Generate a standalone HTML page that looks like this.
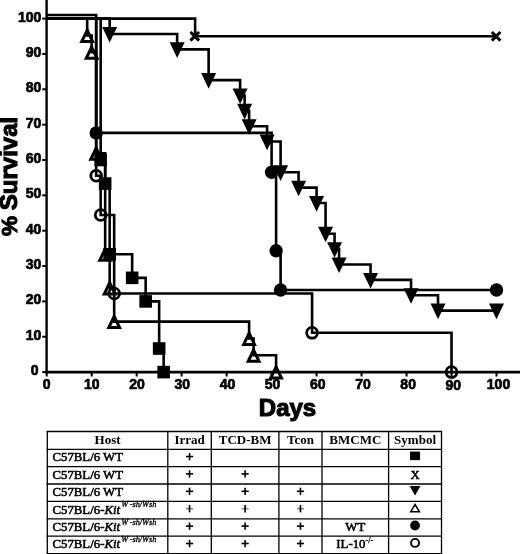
<!DOCTYPE html>
<html><head><meta charset="utf-8"><style>
html,body{margin:0;padding:0;background:#fff;width:520px;height:554px;overflow:hidden}
svg{display:block;will-change:transform}
.tl{font-family:"Liberation Sans",sans-serif;font-weight:bold;font-size:14px;fill:#000;stroke:#000;stroke-width:0.7px}
.ax{font-family:"Liberation Sans",sans-serif;font-weight:bold;font-size:24px;fill:#000;stroke:#000;stroke-width:1.1px}
.th{font-family:"Liberation Serif",serif;font-weight:bold;font-size:13px;fill:#000}
.td{font-family:"Liberation Serif",serif;font-size:12.8px;fill:#000;stroke:#000;stroke-width:0.55px}
.sup{font-size:8.3px;stroke-width:0.3px}
</style></head><body>
<svg width="520" height="554" viewBox="0 0 520 554">
<path d="M46.6,0 V373.4" stroke="#000" stroke-width="2.4" fill="none"/>
<path d="M45.4,372.1 H520" stroke="#000" stroke-width="2.6" fill="none"/>
<path d="M42.2,372.10 H46" stroke="#000" stroke-width="2" fill="none"/>
<text x="38.5" y="375.00" class="tl" text-anchor="end">0</text>
<path d="M42.2,336.75 H46" stroke="#000" stroke-width="2" fill="none"/>
<text x="41.3" y="339.65" class="tl" text-anchor="end">10</text>
<path d="M42.2,301.40 H46" stroke="#000" stroke-width="2" fill="none"/>
<text x="41.3" y="304.30" class="tl" text-anchor="end">20</text>
<path d="M42.2,266.05 H46" stroke="#000" stroke-width="2" fill="none"/>
<text x="41.3" y="268.95" class="tl" text-anchor="end">30</text>
<path d="M42.2,230.70 H46" stroke="#000" stroke-width="2" fill="none"/>
<text x="41.3" y="233.60" class="tl" text-anchor="end">40</text>
<path d="M42.2,195.35 H46" stroke="#000" stroke-width="2" fill="none"/>
<text x="41.3" y="198.25" class="tl" text-anchor="end">50</text>
<path d="M42.2,160.00 H46" stroke="#000" stroke-width="2" fill="none"/>
<text x="41.3" y="162.90" class="tl" text-anchor="end">60</text>
<path d="M42.2,124.65 H46" stroke="#000" stroke-width="2" fill="none"/>
<text x="41.3" y="127.55" class="tl" text-anchor="end">70</text>
<path d="M42.2,89.30 H46" stroke="#000" stroke-width="2" fill="none"/>
<text x="41.3" y="92.20" class="tl" text-anchor="end">80</text>
<path d="M42.2,53.95 H46" stroke="#000" stroke-width="2" fill="none"/>
<text x="41.3" y="56.85" class="tl" text-anchor="end">90</text>
<path d="M42.2,18.60 H46" stroke="#000" stroke-width="2" fill="none"/>
<text x="41.3" y="21.50" class="tl" text-anchor="end">100</text>
<path d="M46.70,373 V376.5" stroke="#000" stroke-width="2" fill="none"/>
<text x="46.70" y="388.8" class="tl" text-anchor="middle">0</text>
<path d="M91.68,373 V376.5" stroke="#000" stroke-width="2" fill="none"/>
<text x="91.88" y="388.8" class="tl" text-anchor="middle">10</text>
<path d="M136.66,373 V376.5" stroke="#000" stroke-width="2" fill="none"/>
<text x="137.06" y="388.8" class="tl" text-anchor="middle">20</text>
<path d="M181.64,373 V376.5" stroke="#000" stroke-width="2" fill="none"/>
<text x="182.24" y="388.8" class="tl" text-anchor="middle">30</text>
<path d="M226.62,373 V376.5" stroke="#000" stroke-width="2" fill="none"/>
<text x="227.42" y="388.8" class="tl" text-anchor="middle">40</text>
<path d="M271.60,373 V376.5" stroke="#000" stroke-width="2" fill="none"/>
<text x="272.60" y="388.8" class="tl" text-anchor="middle">50</text>
<path d="M316.58,373 V376.5" stroke="#000" stroke-width="2" fill="none"/>
<text x="317.78" y="388.8" class="tl" text-anchor="middle">60</text>
<path d="M361.56,373 V376.5" stroke="#000" stroke-width="2" fill="none"/>
<text x="362.96" y="388.8" class="tl" text-anchor="middle">70</text>
<path d="M406.54,373 V376.5" stroke="#000" stroke-width="2" fill="none"/>
<text x="408.14" y="388.8" class="tl" text-anchor="middle">80</text>
<path d="M451.52,373 V376.5" stroke="#000" stroke-width="2" fill="none"/>
<text x="453.32" y="390.0" class="tl" text-anchor="middle">90</text>
<path d="M496.50,373 V376.5" stroke="#000" stroke-width="2" fill="none"/>
<text x="498.50" y="388.8" class="tl" text-anchor="middle">100</text>
<text x="287.5" y="415.5" class="ax" text-anchor="middle">Days</text>
<text transform="translate(17.1,163.5) rotate(-90)" class="ax" style="font-size:24px" text-anchor="middle">Survival</text>
<text transform="translate(17.1,226) rotate(-90)" class="ax" style="font-size:22.5px" text-anchor="middle">%</text>
<path d="M46.70,18.60 H100.68 V160.00 H105.17 V183.57 H109.67 V254.27 H132.16 V277.83 H145.66 V301.40 H159.15 V348.53 H163.65 V372.10" stroke="#000" stroke-width="2.6" fill="none" stroke-linejoin="miter" stroke-linecap="butt"/>
<path d="M46.70,18.60 H195.13 V36.28 H496.50" stroke="#000" stroke-width="2.6" fill="none" stroke-linejoin="miter" stroke-linecap="butt"/>
<path d="M46.70,18.60 H109.67 V33.97 H177.14 V49.34 H208.63 V80.08 H240.11 V95.45 H244.61 V110.82 H249.11 V126.19 H267.10 V141.56 H280.60 V172.30 H298.59 V187.67 H316.58 V203.03 H325.58 V233.77 H334.57 V249.14 H339.07 V264.51 H370.56 V279.88 H411.04 V295.25 H438.03 V310.62 H496.50" stroke="#000" stroke-width="2.6" fill="none" stroke-linejoin="miter" stroke-linecap="butt"/>
<path d="M46.70,18.60 H87.18 V35.43 H91.68 V52.27 H96.18 V153.27 H105.17 V254.27 H109.67 V287.93 H114.17 V321.60 H249.11 V338.43 H253.61 V355.27 H276.10 V372.10" stroke="#000" stroke-width="2.6" fill="none" stroke-linejoin="miter" stroke-linecap="butt"/>
<path d="M46.70,15.07 H96.18 V132.90 H271.60 V172.18 H276.10 V250.73 H280.60 V290.01 H496.50" stroke="#000" stroke-width="2.6" fill="none" stroke-linejoin="miter" stroke-linecap="butt"/>
<path d="M46.70,18.60 H96.18 V175.71 H100.68 V214.99 H114.17 V293.54 H312.08 V332.82 H451.52 V372.10" stroke="#000" stroke-width="2.6" fill="none" stroke-linejoin="miter" stroke-linecap="butt"/>
<rect x="94.38" y="153.70" width="12.6" height="12.6" fill="#000"/>
<rect x="98.87" y="177.27" width="12.6" height="12.6" fill="#000"/>
<rect x="103.37" y="247.97" width="12.6" height="12.6" fill="#000"/>
<rect x="125.86" y="271.53" width="12.6" height="12.6" fill="#000"/>
<rect x="139.36" y="295.10" width="12.6" height="12.6" fill="#000"/>
<rect x="152.85" y="342.23" width="12.6" height="12.6" fill="#000"/>
<rect x="157.35" y="365.80" width="12.6" height="12.6" fill="#000"/>
<path d="M190.43,31.98 L199.03,40.58 M199.03,31.98 L190.43,40.58" stroke="#000" stroke-width="3" fill="none"/>
<path d="M491.80,31.98 L500.40,40.58 M500.40,31.98 L491.80,40.58" stroke="#000" stroke-width="3" fill="none"/>
<polygon points="102.17,26.97 117.17,26.97 109.67,42.57" fill="#000"/>
<polygon points="169.64,42.34 184.64,42.34 177.14,57.94" fill="#000"/>
<polygon points="201.13,73.08 216.13,73.08 208.63,88.68" fill="#000"/>
<polygon points="232.61,88.45 247.61,88.45 240.11,104.05" fill="#000"/>
<polygon points="237.11,103.82 252.11,103.82 244.61,119.42" fill="#000"/>
<polygon points="241.61,119.19 256.61,119.19 249.11,134.79" fill="#000"/>
<polygon points="259.60,134.56 274.60,134.56 267.10,150.16" fill="#000"/>
<polygon points="273.10,165.30 288.10,165.30 280.60,180.90" fill="#000"/>
<polygon points="291.09,180.67 306.09,180.67 298.59,196.27" fill="#000"/>
<polygon points="309.08,196.03 324.08,196.03 316.58,211.63" fill="#000"/>
<polygon points="318.08,226.77 333.08,226.77 325.58,242.37" fill="#000"/>
<polygon points="327.07,242.14 342.07,242.14 334.57,257.74" fill="#000"/>
<polygon points="331.57,257.51 346.57,257.51 339.07,273.11" fill="#000"/>
<polygon points="363.06,272.88 378.06,272.88 370.56,288.48" fill="#000"/>
<polygon points="403.54,288.25 418.54,288.25 411.04,303.85" fill="#000"/>
<polygon points="430.53,303.62 445.53,303.62 438.03,319.22" fill="#000"/>
<polygon points="489.00,303.62 504.00,303.62 496.50,319.22" fill="#000"/>
<polygon points="87.18,30.23 92.58,41.43 81.78,41.43" fill="none" stroke="#000" stroke-width="3.0" stroke-linejoin="miter"/>
<polygon points="91.68,47.07 97.08,58.27 86.28,58.27" fill="none" stroke="#000" stroke-width="3.0" stroke-linejoin="miter"/>
<polygon points="96.18,148.07 101.58,159.27 90.78,159.27" fill="none" stroke="#000" stroke-width="3.0" stroke-linejoin="miter"/>
<polygon points="105.17,249.07 110.57,260.27 99.77,260.27" fill="none" stroke="#000" stroke-width="3.0" stroke-linejoin="miter"/>
<polygon points="109.67,282.73 115.07,293.93 104.27,293.93" fill="none" stroke="#000" stroke-width="3.0" stroke-linejoin="miter"/>
<polygon points="114.17,316.40 119.57,327.60 108.77,327.60" fill="none" stroke="#000" stroke-width="3.0" stroke-linejoin="miter"/>
<polygon points="249.11,333.23 254.51,344.43 243.71,344.43" fill="none" stroke="#000" stroke-width="3.0" stroke-linejoin="miter"/>
<polygon points="253.61,350.07 259.01,361.27 248.21,361.27" fill="none" stroke="#000" stroke-width="3.0" stroke-linejoin="miter"/>
<polygon points="276.10,366.90 281.50,378.10 270.70,378.10" fill="none" stroke="#000" stroke-width="3.0" stroke-linejoin="miter"/>
<circle cx="96.18" cy="132.90" r="6.7" fill="#000"/>
<circle cx="271.60" cy="172.18" r="6.7" fill="#000"/>
<circle cx="276.10" cy="250.73" r="6.7" fill="#000"/>
<circle cx="280.60" cy="290.01" r="6.7" fill="#000"/>
<circle cx="496.50" cy="290.01" r="6.7" fill="#000"/>
<circle cx="96.18" cy="175.71" r="5.4" fill="none" stroke="#000" stroke-width="2.8"/>
<circle cx="100.68" cy="214.99" r="5.4" fill="none" stroke="#000" stroke-width="2.8"/>
<circle cx="114.17" cy="293.54" r="5.4" fill="none" stroke="#000" stroke-width="2.8"/>
<circle cx="312.08" cy="332.82" r="5.4" fill="none" stroke="#000" stroke-width="2.8"/>
<circle cx="451.52" cy="372.10" r="5.4" fill="none" stroke="#000" stroke-width="2.8"/>
<path d="M47.3,431.0 V554.1" stroke="#000" stroke-width="1.3" fill="none"/>
<path d="M167.8,431.0 V554.1" stroke="#000" stroke-width="1.3" fill="none"/>
<path d="M211.3,431.0 V554.1" stroke="#000" stroke-width="1.3" fill="none"/>
<path d="M278.9,431.0 V554.1" stroke="#000" stroke-width="1.3" fill="none"/>
<path d="M322.0,431.0 V554.1" stroke="#000" stroke-width="1.3" fill="none"/>
<path d="M388.6,431.0 V554.1" stroke="#000" stroke-width="1.3" fill="none"/>
<path d="M441.5,431.0 V554.1" stroke="#000" stroke-width="1.3" fill="none"/>
<path d="M46.699999999999996,431.5 H442.1" stroke="#000" stroke-width="1.3" fill="none"/>
<path d="M46.699999999999996,449.3 H442.1" stroke="#000" stroke-width="1.3" fill="none"/>
<path d="M46.699999999999996,466.6 H442.1" stroke="#000" stroke-width="1.3" fill="none"/>
<path d="M46.699999999999996,484.0 H442.1" stroke="#000" stroke-width="1.3" fill="none"/>
<path d="M46.699999999999996,501.4 H442.1" stroke="#000" stroke-width="1.3" fill="none"/>
<path d="M46.699999999999996,518.8 H442.1" stroke="#000" stroke-width="1.3" fill="none"/>
<path d="M46.699999999999996,536.2 H442.1" stroke="#000" stroke-width="1.3" fill="none"/>
<path d="M46.699999999999996,553.6 H442.1" stroke="#000" stroke-width="1.3" fill="none"/>
<text x="107.55" y="443.6" class="th" text-anchor="middle">Host</text>
<text x="189.55" y="443.6" class="th" text-anchor="middle">Irrad</text>
<text x="245.10" y="443.6" class="th" text-anchor="middle">TCD-BM</text>
<text x="300.45" y="443.6" class="th" text-anchor="middle">Tcon</text>
<text x="355.30" y="443.6" class="th" text-anchor="middle">BMCMC</text>
<text x="415.05" y="443.6" class="th" text-anchor="middle">Symbol</text>
<text x="52.5" y="461.40" class="td">C57BL/6 WT</text>
<path d="M185.95,456.55 H193.15" stroke="#000" stroke-width="1.6" fill="none"/>
<path d="M189.55,452.95 V460.25" stroke="#000" stroke-width="1.6" fill="none"/>
<rect x="410.05" y="451.55" width="10" height="8.6" fill="#000"/>
<text x="52.5" y="478.80" class="td">C57BL/6 WT</text>
<path d="M185.95,473.90 H193.15" stroke="#000" stroke-width="1.6" fill="none"/>
<path d="M189.55,470.30 V477.60" stroke="#000" stroke-width="1.6" fill="none"/>
<path d="M241.50,473.90 H248.70" stroke="#000" stroke-width="1.6" fill="none"/>
<path d="M245.10,470.30 V477.60" stroke="#000" stroke-width="1.6" fill="none"/>
<text x="415.05" y="478.80" class="td" text-anchor="middle">X</text>
<text x="52.5" y="496.20" class="td">C57BL/6 WT</text>
<path d="M185.95,491.30 H193.15" stroke="#000" stroke-width="1.6" fill="none"/>
<path d="M189.55,487.70 V495.00" stroke="#000" stroke-width="1.6" fill="none"/>
<path d="M241.50,491.30 H248.70" stroke="#000" stroke-width="1.6" fill="none"/>
<path d="M245.10,487.70 V495.00" stroke="#000" stroke-width="1.6" fill="none"/>
<path d="M296.85,491.30 H304.05" stroke="#000" stroke-width="1.6" fill="none"/>
<path d="M300.45,487.70 V495.00" stroke="#000" stroke-width="1.6" fill="none"/>
<polygon points="409.65,486.00 420.45,486.00 415.05,495.50" fill="#000"/>
<text x="52.5" y="513.60" class="td">C57BL/6-<tspan font-style="italic">Kit</tspan><tspan class="sup" dx="1.2" dy="-6.2" font-style="italic">W</tspan><tspan class="sup" dx="1.8" font-style="italic">-sh/Wsh</tspan></text>
<path d="M185.95,508.70 H193.15" stroke="#8a8a8a" stroke-width="1.6" fill="none"/>
<path d="M189.55,505.10 V512.40" stroke="#000" stroke-width="1.6" fill="none"/>
<path d="M241.50,508.70 H248.70" stroke="#8a8a8a" stroke-width="1.6" fill="none"/>
<path d="M245.10,505.10 V512.40" stroke="#000" stroke-width="1.6" fill="none"/>
<path d="M296.85,508.70 H304.05" stroke="#8a8a8a" stroke-width="1.6" fill="none"/>
<path d="M300.45,505.10 V512.40" stroke="#000" stroke-width="1.6" fill="none"/>
<polygon points="415.05,504.50 419.35,511.70 410.75,511.70" fill="none" stroke="#000" stroke-width="1.5"/>
<text x="52.5" y="531.00" class="td">C57BL/6-<tspan font-style="italic">Kit</tspan><tspan class="sup" dx="1.2" dy="-6.2" font-style="italic">W</tspan><tspan class="sup" dx="1.8" font-style="italic">-sh/Wsh</tspan></text>
<path d="M185.95,526.10 H193.15" stroke="#000" stroke-width="1.6" fill="none"/>
<path d="M189.55,522.50 V529.80" stroke="#000" stroke-width="1.6" fill="none"/>
<path d="M241.50,526.10 H248.70" stroke="#000" stroke-width="1.6" fill="none"/>
<path d="M245.10,522.50 V529.80" stroke="#000" stroke-width="1.6" fill="none"/>
<path d="M296.85,526.10 H304.05" stroke="#000" stroke-width="1.6" fill="none"/>
<path d="M300.45,522.50 V529.80" stroke="#000" stroke-width="1.6" fill="none"/>
<text x="355.30" y="531.00" class="td" text-anchor="middle">WT</text>
<circle cx="415.05" cy="525.50" r="4.9" fill="#000"/>
<text x="52.5" y="548.40" class="td">C57BL/6-<tspan font-style="italic">Kit</tspan><tspan class="sup" dx="1.2" dy="-6.2" font-style="italic">W</tspan><tspan class="sup" dx="1.8" font-style="italic">-sh/Wsh</tspan></text>
<path d="M185.95,543.50 H193.15" stroke="#000" stroke-width="1.6" fill="none"/>
<path d="M189.55,539.90 V547.20" stroke="#000" stroke-width="1.6" fill="none"/>
<path d="M241.50,543.50 H248.70" stroke="#000" stroke-width="1.6" fill="none"/>
<path d="M245.10,539.90 V547.20" stroke="#000" stroke-width="1.6" fill="none"/>
<path d="M296.85,543.50 H304.05" stroke="#000" stroke-width="1.6" fill="none"/>
<path d="M300.45,539.90 V547.20" stroke="#000" stroke-width="1.6" fill="none"/>
<text x="354.80" y="548.40" class="td" text-anchor="middle">IL-10<tspan class="sup" dy="-5.5">-/-</tspan></text>
<circle cx="415.05" cy="542.90" r="4.0" fill="none" stroke="#000" stroke-width="1.9"/>
</svg>
</body></html>
